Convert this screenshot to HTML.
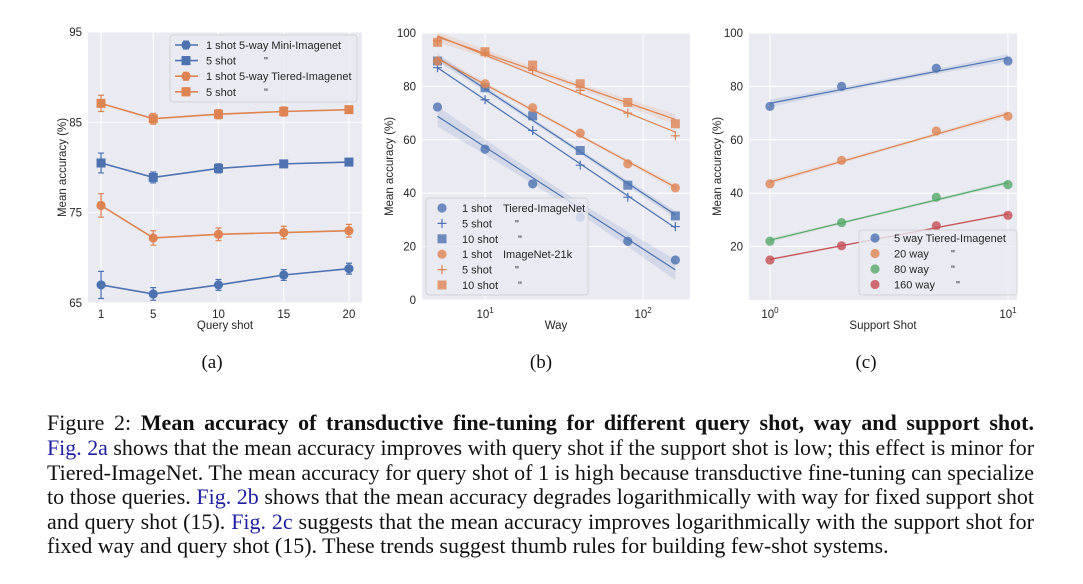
<!DOCTYPE html>
<html><head><meta charset="utf-8"><style>
body{margin:0;background:#fff;width:1083px;height:584px;overflow:hidden;position:relative;font-family:"Liberation Serif",serif}
svg{position:absolute;left:0;top:0}
.cap{position:absolute;left:47px;font-size:22px;line-height:22px;white-space:nowrap;color:#111}
.lk{color:#1f1fa0}
</style></head><body>
<svg id="chart" width="1083" height="584" font-family="Liberation Sans, DejaVu Sans, sans-serif"></svg>
<div class="cap j" style="top:412px">Figure 2: <b>Mean accuracy of transductive fine-tuning for different query shot, way and support shot.</b></div>
<div class="cap j" style="top:437px"><span class="lk">Fig. 2a</span> shows that the mean accuracy improves with query shot if the support shot is low; this effect is minor for</div>
<div class="cap j" style="top:462px">Tiered-ImageNet. The mean accuracy for query shot of 1 is high because transductive fine-tuning can specialize</div>
<div class="cap j" style="top:486px">to those queries. <span class="lk">Fig. 2b</span> shows that the mean accuracy degrades logarithmically with way for fixed support shot</div>
<div class="cap j" style="top:511px">and query shot (15). <span class="lk">Fig. 2c</span> suggests that the mean accuracy improves logarithmically with the support shot for</div>
<div class="cap" id="last" style="top:535px">fixed way and query shot (15). These trends suggest thumb rules for building few-shot systems.</div>
<script>
// justify caption lines
(function(){
  const W=987;
  document.querySelectorAll('.cap.j').forEach(d=>{
    let w=d.getBoundingClientRect().width;
    if(w>W){const fs=22*W/w;d.style.fontSize=fs+'px';w=d.getBoundingClientRect().width;}
    const spaces=(d.textContent.match(/ /g)||[]).length;
    if(spaces&&w<W)d.style.wordSpacing=((W-w)/spaces)+'px';
  });
  const last=document.getElementById('last');
  const lw=last.getBoundingClientRect().width;
  if(lw>860)last.style.fontSize=(22*853/lw)+'px';
})();
// Panel (a)
const aQuery=[1,5,10,15,20];
const aMini1=[67,66,67,68.1,68.8];
const aMini1Err=[1.5,0.7,0.6,0.6,0.6];
const aMini5=[80.5,78.9,79.9,80.4,80.6];
const aMini5Err=[1.1,0.6,0.5,0.4,0.4];
const aTier1=[75.8,72.2,72.6,72.8,73];
const aTier1Err=[1.3,0.8,0.7,0.7,0.7];
const aTier5=[87.1,85.4,85.9,86.2,86.4];
const aTier5Err=[0.9,0.6,0.5,0.5,0.4];
const aYTicks=[65,75,85,95];
const aXTicks=[1,5,10,15,20];
// Panel (b)
const bWay=[5,10,20,40,80,160];
const bTier1=[72.3,56.5,43.5,31,22,15];
const bTier5=[87,75,63.5,50.5,38.5,27.5];
const bTier10=[89.5,79.5,69,56,43,31.5];
const bNet1=[89.5,81,72,62.5,51,42];
const bNet5=[97,92.5,86,78.5,70,61.5];
const bNet10=[96.5,93,88,81,74,66];
const bYTicks=[0,20,40,60,80,100];
// Panel (c)
const cShot=[1,2,5,10];
const c5way=[72.5,80,86.8,89.5];
const c20way=[43.5,52.3,63.3,68.8];
const c80way=[22,29,38.5,43.2];
const c160way=[15,20.3,27.8,31.7];
const cYTicks=[20,40,60,80,100];

const NS='http://www.w3.org/2000/svg';
const svg=document.getElementById('chart');
const BLUE='#4c72b0',ORANGE='#dd8452',GREEN='#55a868',RED='#c44e52',BG='#eaeaf2';
const FS=11.5, LFS=11;
function el(tag,attrs,parent){const e=document.createElementNS(NS,tag);for(const k in attrs)e.setAttribute(k,attrs[k]);(parent||svg).appendChild(e);return e;}
function txt(x,y,s,size,anchor,parent,extra){const t=el('text',Object.assign({x:x,y:y,'font-size':size,'text-anchor':anchor||'start',fill:'#262626'},extra||{}),parent);t.textContent=s;return t;}
function marker(g,shape,x,y,color,op){
  let m;
  if(shape==='o'){m=el('circle',{cx:x,cy:y,r:4.6,fill:color,'fill-opacity':op},g);}
  else if(shape==='s'){m=el('rect',{x:x-4.5,y:y-4.5,width:9,height:9,fill:color,'fill-opacity':op},g);}
  else {m=el('path',{d:`M${x-4.5},${y}H${x+4.5}M${x},${y-4.5}V${y+4.5}`,stroke:color,'stroke-width':1.2,fill:'none'},g);}
  return m;
}
function fit(xs,ys){const n=xs.length;const mx=xs.reduce((a,b)=>a+b)/n,my=ys.reduce((a,b)=>a+b)/n;let sxx=0,sxy=0;xs.forEach((x,i)=>{sxx+=(x-mx)**2;sxy+=(x-mx)*(ys[i]-my);});const b=sxy/sxx,a=my-b*mx;let r=0;xs.forEach((x,i)=>{r+=(ys[i]-a-b*x)**2;});const s=Math.sqrt(r/Math.max(1,n-2));return {a,b,mx,sxx,s,n};}

// ---------- Panel A ----------
(function(){
const L=88,R=362,T=32,B=303;
const sx=v=>L+(v-0)/(21-0)*(R-L), sy=v=>B-(v-65)/(95-65)*(B-T);
const g=el('g',{});


el('rect',{x:L,y:T,width:R-L,height:B-T,fill:BG},g);
aXTicks.forEach(t=>{el('line',{x1:sx(t),x2:sx(t),y1:T,y2:B,stroke:'#fff','stroke-width':1},g);const l=txt(sx(t),318,String(t),FS,'middle',g);});
aYTicks.forEach(t=>{el('line',{x1:L,x2:R,y1:sy(t),y2:sy(t),stroke:'#fff','stroke-width':1},g);const l=txt(L-6,sy(t)+4,String(t),FS,'end',g);});
const series=[[aMini1,aMini1Err,BLUE,'o','mini-1shot'],[aMini5,aMini5Err,BLUE,'s','mini-5shot'],[aTier1,aTier1Err,ORANGE,'o','tiered-1shot'],[aTier5,aTier5Err,ORANGE,'s','tiered-5shot']];
series.forEach(([ys,er,c,sh,nm])=>{
  const sg=el('g',{},g);
  
  
  el('polyline',{points:aQuery.map((x,i)=>sx(x)+','+sy(ys[i])).join(' '),fill:'none',stroke:c,'stroke-width':1.6},sg);
  aQuery.forEach((x,i)=>{
    const X=sx(x),y1=sy(ys[i]-er[i]),y2=sy(ys[i]+er[i]);
    el('path',{d:`M${X},${y1}V${y2}M${X-3},${y1}H${X+3}M${X-3},${y2}H${X+3}`,stroke:c,'stroke-width':1.2,fill:'none'},sg);
    const m=marker(sg,sh,X,sy(ys[i]),c,1);
    
    
  });
});
const lg=el('g',{},g);


el('rect',{x:170,y:35,width:187,height:67,rx:3,fill:BG,'fill-opacity':0.8,stroke:'#ccc','stroke-width':0.8},lg);
const labs=[['1 shot 5-way Mini-Imagenet','',BLUE,'o'],['5 shot','"',BLUE,'s'],['1 shot 5-way Tiered-Imagenet','',ORANGE,'o'],['5 shot','"',ORANGE,'s']];
labs.forEach(([t,q,c,sh],i)=>{const y=45+i*15.6;el('line',{x1:175,x2:198,y1:y,y2:y,stroke:c,'stroke-width':1.6},lg);el('path',{d:`M186,${y-4}V${y+4}M183,${y-4}H189M183,${y+4}H189`,stroke:c,'stroke-width':1},lg);marker(lg,sh,186,y,c,1);txt(206,y+4,t,LFS,'start',lg);if(q)txt(264,y+4,q,LFS,'start',lg);});
const xl=txt((L+R)/2,329,'Query shot',FS,'middle',g);

const yl=txt(0,0,'Mean accuracy (%)',FS,'middle',g,{transform:`translate(66,${(T+B)/2}) rotate(-90)`});

const cp=txt(212,368,'(a)',19,'middle',g,{'font-family':'Liberation Serif, serif',fill:'#111'});

})();

// ---------- Panel B ----------
(function(){
const L=422,R=690,T=33,B=300;
const lx0=Math.log10(3.99),lx1=Math.log10(198);
const sx=v=>L+(Math.log10(v)-lx0)/(lx1-lx0)*(R-L), sy=v=>B-v/100*(B-T);
const g=el('g',{});


el('rect',{x:L,y:T,width:R-L,height:B-T,fill:BG},g);
[10,100].forEach(t=>el('line',{x1:sx(t),x2:sx(t),y1:T,y2:B,stroke:'#fff','stroke-width':1},g));
bYTicks.forEach(t=>{el('line',{x1:L,x2:R,y1:sy(t),y2:sy(t),stroke:'#fff','stroke-width':1},g);const l=txt(L-6,sy(t)+4,String(t),FS,'end',g);});
[[10,'1'],[100,'2']].forEach(([t,e])=>{const l=el('text',{x:sx(t),y:318,'font-size':FS,'text-anchor':'middle',fill:'#262626'},g);l.innerHTML=`10<tspan dy="-5" font-size="8">${e}</tspan>`;});
const clip=el('clipPath',{id:'clipb'},g);el('rect',{x:L,y:T,width:R-L,height:B-T},clip);
const series=[[bTier1,BLUE,'o','tiered-1shot'],[bTier5,BLUE,'+','tiered-5shot'],[bTier10,BLUE,'s','tiered-10shot'],[bNet1,ORANGE,'o','net21k-1shot'],[bNet5,ORANGE,'+','net21k-5shot'],[bNet10,ORANGE,'s','net21k-10shot']];
series.forEach(([ys,c,sh,nm],si)=>{
  const sg=el('g',{'clip-path':'url(#clipb)'},g);
  
  
  const xs=bWay.map(v=>Math.log10(v));const f=fit(xs,ys);
  const N=30,up=[],lo=[];
  const mult=(sh==='+')?0:1.6;
  for(let k=0;k<=N;k++){const x=xs[0]+(xs[xs.length-1]-xs[0])*k/N;const y=f.a+f.b*x;const h=mult*f.s*Math.sqrt(1/f.n+(x-f.mx)**2/f.sxx);up.push(sx(10**x)+','+sy(y+h));lo.unshift(sx(10**x)+','+sy(y-h));}
  if(mult>0)el('polygon',{points:up.concat(lo).join(' '),fill:c,'fill-opacity':0.15,stroke:'none'},sg);
  el('line',{x1:sx(bWay[0]),y1:sy(f.a+f.b*xs[0]),x2:sx(bWay[bWay.length-1]),y2:sy(f.a+f.b*xs[xs.length-1]),stroke:c,'stroke-width':1.2},sg);
  bWay.forEach((x,i)=>{const m=marker(sg,sh,sx(x),sy(ys[i]),c,0.8);});
});
const lg=el('g',{},g);


el('rect',{x:426,y:198,width:162,height:97,rx:3,fill:BG,'fill-opacity':0.8,stroke:'#ccc','stroke-width':0.8},lg);
const labs=[['1 shot','Tiered-ImageNet',BLUE,'o',503],['5 shot','"',BLUE,'+',515],['10 shot','"',BLUE,'s',518],['1 shot','ImageNet-21k',ORANGE,'o',503],['5 shot','"',ORANGE,'+',515],['10 shot','"',ORANGE,'s',518]];
labs.forEach(([a,b,c,sh,bx],i)=>{const y=208+i*15.4;marker(lg,sh,442,y,c,0.8);txt(462,y+4,a,LFS,'start',lg);txt(bx,y+4,b,LFS,'start',lg);});
const xl=txt((L+R)/2,329,'Way',FS,'middle',g);

const yl=txt(0,0,'Mean accuracy (%)',FS,'middle',g,{transform:`translate(393,${(T+B)/2}) rotate(-90)`});

const cp=txt(541,368,'(b)',19,'middle',g,{'font-family':'Liberation Serif, serif',fill:'#111'});

})();

// ---------- Panel C ----------
(function(){
const L=749,R=1017,T=33,B=300;
const lx0=-0.088,lx1=1.038;
const sx=v=>L+(Math.log10(v)-lx0)/(lx1-lx0)*(R-L), sy=v=>B-v/100*(B-T);
const g=el('g',{});


el('rect',{x:L,y:T,width:R-L,height:B-T,fill:BG},g);
[1,10].forEach(t=>el('line',{x1:sx(t),x2:sx(t),y1:T,y2:B,stroke:'#fff','stroke-width':1},g));
cYTicks.forEach(t=>{el('line',{x1:L,x2:R,y1:sy(t),y2:sy(t),stroke:'#fff','stroke-width':1},g);const l=txt(L-6,sy(t)+4,String(t),FS,'end',g);});
[[1,'0'],[10,'1']].forEach(([t,e])=>{const l=el('text',{x:sx(t),y:318,'font-size':FS,'text-anchor':'middle',fill:'#262626'},g);l.innerHTML=`10<tspan dy="-5" font-size="8">${e}</tspan>`;});
const series=[[c5way,BLUE,'5way'],[c20way,ORANGE,'20way'],[c80way,GREEN,'80way'],[c160way,RED,'160way']];
series.forEach(([ys,c,nm])=>{
  const sg=el('g',{},g);
  
  
  const xs=cShot.map(v=>Math.log10(v));const f=fit(xs,ys);
  const N=20,up=[],lo=[];
  for(let k=0;k<=N;k++){const x=xs[0]+(xs[xs.length-1]-xs[0])*k/N;const y=f.a+f.b*x;const h=1.0*f.s*Math.sqrt(1/f.n+(x-f.mx)**2/f.sxx);up.push(sx(10**x)+','+sy(y+h));lo.unshift(sx(10**x)+','+sy(y-h));}
  el('polygon',{points:up.concat(lo).join(' '),fill:c,'fill-opacity':0.15,stroke:'none'},sg);
  el('line',{x1:sx(cShot[0]),y1:sy(f.a),x2:sx(cShot[cShot.length-1]),y2:sy(f.a+f.b*xs[xs.length-1]),stroke:c,'stroke-width':1.2},sg);
  cShot.forEach((x,i)=>{const m=marker(sg,'o',sx(x),sy(ys[i]),c,0.8);});
});
const lg=el('g',{},g);


el('rect',{x:859,y:230,width:158,height:65,rx:3,fill:BG,'fill-opacity':0.8,stroke:'#ccc','stroke-width':0.8},lg);
const labs=[['5 way Tiered-Imagenet','',BLUE,0],['20 way','"',ORANGE,951],['80 way','"',GREEN,951],['160 way','"',RED,956]];
labs.forEach(([a,q,c,qx],i)=>{const y=238+i*15.5;marker(lg,'o',875,y,c,0.8);txt(894,y+4,a,LFS,'start',lg);if(q)txt(qx,y+4,q,LFS,'start',lg);});
const xl=txt((L+R)/2,329,'Support Shot',FS,'middle',g);

const yl=txt(0,0,'Mean accuracy (%)',FS,'middle',g,{transform:`translate(721,${(T+B)/2}) rotate(-90)`});

const cp=txt(866,368,'(c)',19,'middle',g,{'font-family':'Liberation Serif, serif',fill:'#111'});

})();
</script>
</body></html>
